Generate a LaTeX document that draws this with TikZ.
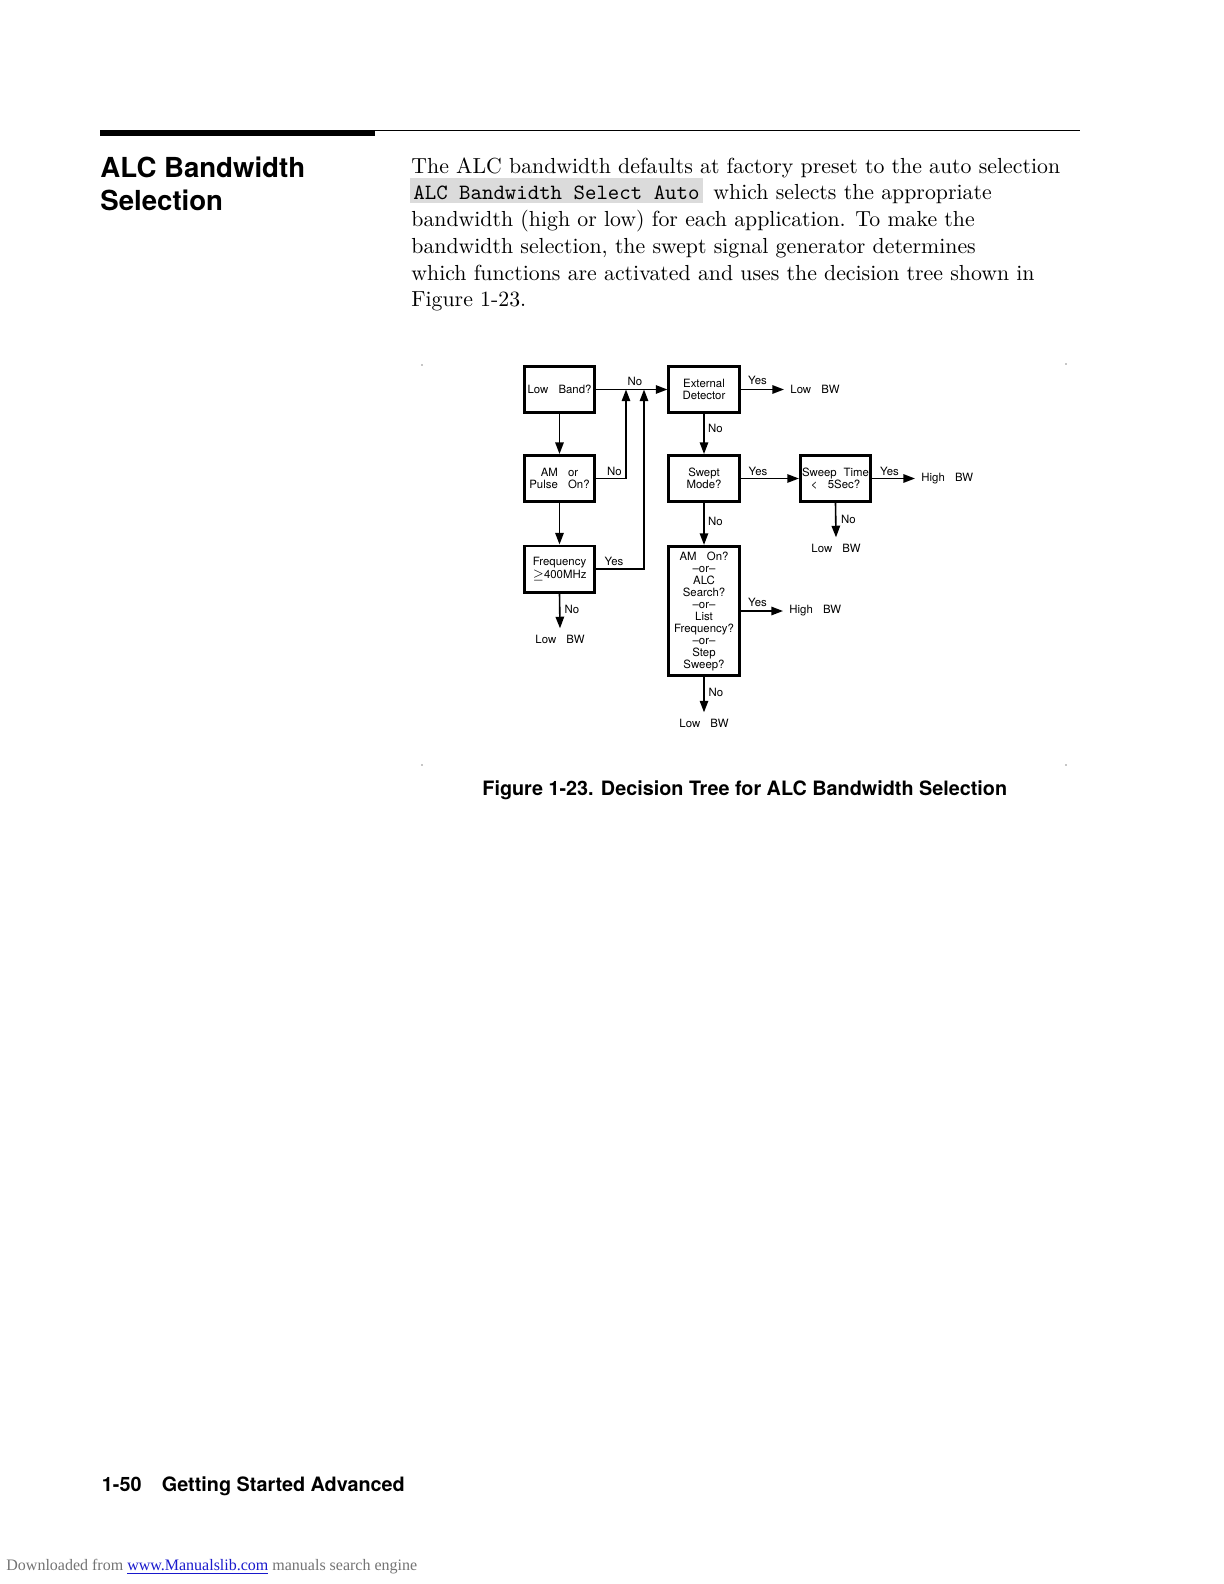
\documentclass[tikz,border=0pt]{standalone}
\usepackage{fontspec}
\newfontfamily\hfont{TeX Gyre Heros}
\newfontfamily\serfont{Liberation Serif}
\usetikzlibrary{arrows.meta}
\newcommand\wsp{\hspace{0.9em}}
\newcommand\dfont{\hfont\fontsize{5.7}{6.1}\selectfont}
\tikzset{
  box/.style={draw, line width=1.4pt, minimum width=35.2pt, minimum height=23.1pt,
    inner sep=0pt, align=center, font=\dfont},
  conn/.style={line width=0.8pt},
  arr/.style={conn, -{Triangle[length=5.8pt,width=4.2pt]}},
  lbl/.style={inner sep=0pt, font=\dfont},
  endn/.style={inner sep=3pt, font=\dfont},
  body/.style={inner sep=0pt, anchor=base west, font=\fontsize{10.9}{13}\selectfont},
}
\begin{document}
\begin{tikzpicture}[x=0.5pt,y=-0.5pt]
\useasboundingbox (0,0) rectangle (1224,1584);

% top rules
\fill (100,130) rectangle (375,136);
\draw[line width=0.5pt] (375,130.5) -- (1080,130.5);

% heading
\node[inner sep=0pt, anchor=base west, font=\hfont\bfseries\fontsize{13.8}{16}\selectfont] (h1) at (100,177) {ALC Bandwidth};
\node[inner sep=0pt, anchor=base west, font=\hfont\bfseries\fontsize{13.8}{16}\selectfont] (h2) at (100,210) {Selection};

% body text
\node[body] (t1) at (411,173) {The ALC bandwidth defaults at factory preset to the auto selection};
\node[inner xsep=1.5pt, inner ysep=0pt, text height=10.75pt, text depth=1.5pt, fill=black!14,
      anchor=base west, font=\ttfamily\fontsize{10.9}{13}\selectfont] (sk) at (410,199.5) {ALC Bandwidth Select Auto};
\node[body] (t2) at (713,199.5) {which selects the appropriate};
\node[body] (t3) at (411,226.5) {bandwidth (high or low) for each application. To make the};
\node[body] (t4) at (411,253) {bandwidth selection, the swept signal generator determines};
\node[body] (t5) at (411,280) {which functions are activated and uses the decision tree shown in};
\node[body] (t6) at (411,306.5) {Figure 1-23.};

% figure corner marks
\fill[black!45] (422,365) circle (0.8);
\fill[black!45] (1066,364) circle (0.8);
\fill[black!45] (422,765) circle (0.8);
\fill[black!45] (1066,765) circle (0.8);

% boxes
\node[box] (LB) at (559.5,389.5) {Low\wsp Band?};
\node[box] (AP) at (559.5,478.5) {AM\wsp or\\Pulse\wsp On?};
\node[box] (FQ) at (559.5,569) {Frequency\\{$\geq$}400MHz};
\node[box] (ED) at (704,389.5) {External\\Detector};
\node[box] (SM) at (704,478.5) {Swept\\Mode?};
\node[box, minimum height=64.7pt, font=\hfont\fontsize{5.7}{6}\selectfont] (AO) at (704,611)
  {AM\wsp On?\\\textendash or\textendash\\ALC\\Search?\\\textendash or\textendash\\List\\Frequency?\\\textendash or\textendash\\Step\\Sweep?};
\node[box] (ST) at (835.5,478.5) {Sweep\hspace{0.6em}Time\\<\wsp 5Sec?};

% end nodes
\node[endn, anchor=west] (bwA) at (784,389.5) {Low\wsp BW};
\node[endn, anchor=west] (bwB) at (915,478.5) {High\wsp BW};
\node[endn, anchor=west] (bwC) at (783,611) {High\wsp BW};
\node[endn] (bwD) at (560,639) {Low\wsp BW};
\node[endn] (bwE) at (836,548) {Low\wsp BW};
\node[endn] (bwF) at (704,723) {Low\wsp BW};

% merge points
\coordinate (m1) at (626,389.5);
\coordinate (m2) at (644,389.5);

% connectors
\draw[arr] (LB.east) -- (ED.west);
\draw[arr] (LB.south) -- (AP.north);
\draw[arr] (AP.south) -- (FQ.north);
\draw[arr] (AP.east) -| (m1);
\draw[arr] (FQ.east) -| (m2);
\draw[arr] (FQ.south) -- (bwD.north);
\draw[arr] (ED.east) -- (bwA.west);
\draw[arr] (ED.south) -- (SM.north);
\draw[arr] (SM.east) -- (ST.west);
\draw[arr] (ST.east) -- (bwB.west);
\draw[arr] (ST.south) -- (bwE.north);
\draw[arr] (SM.south) -- (AO.north);
\draw[arr] (AO.east) -- (bwC.west);
\draw[arr] (AO.south) -- (bwF.north);

% labels
\node[lbl] (l1) at (635,381) {No};
\node[lbl] (l2) at (614.5,471) {No};
\node[lbl] (l3) at (614,561) {Yes};
\node[lbl] (l4) at (572,609) {No};
\node[lbl] (l5) at (757.5,380) {Yes};
\node[lbl] (l6) at (715.5,428) {No};
\node[lbl] (l7) at (758,471) {Yes};
\node[lbl] (l8) at (889.5,471) {Yes};
\node[lbl] (l9) at (848.5,519) {No};
\node[lbl] (l10) at (715.5,521.5) {No};
\node[lbl] (l11) at (757.5,602) {Yes};
\node[lbl] (l12) at (716,692.5) {No};

% caption
\node[inner sep=0pt, anchor=base west, font=\hfont\bfseries\fontsize{9.9}{12}\selectfont] (cap) at (482,795)
  {Figure 1-23. Decision Tree for ALC Bandwidth Selection};

% footer
\node[inner sep=0pt, anchor=base west, font=\hfont\bfseries\fontsize{9.9}{12}\selectfont] (pg) at (101.5,1491.5) {1-50};
\node[inner sep=0pt, anchor=base west, font=\hfont\bfseries\fontsize{9.9}{12}\selectfont] (ft) at (161.5,1491.5) {Getting Started Advanced};

\node[inner sep=0pt, anchor=base west, text=black!55, font=\serfont\fontsize{8}{10}\selectfont] (dl) at (6,1570.5)
  {Downloaded from \textcolor[rgb]{0.1,0.1,0.8}{\underline{www.Manualslib.com}}\ manuals search engine};
\end{tikzpicture}
\end{document}
